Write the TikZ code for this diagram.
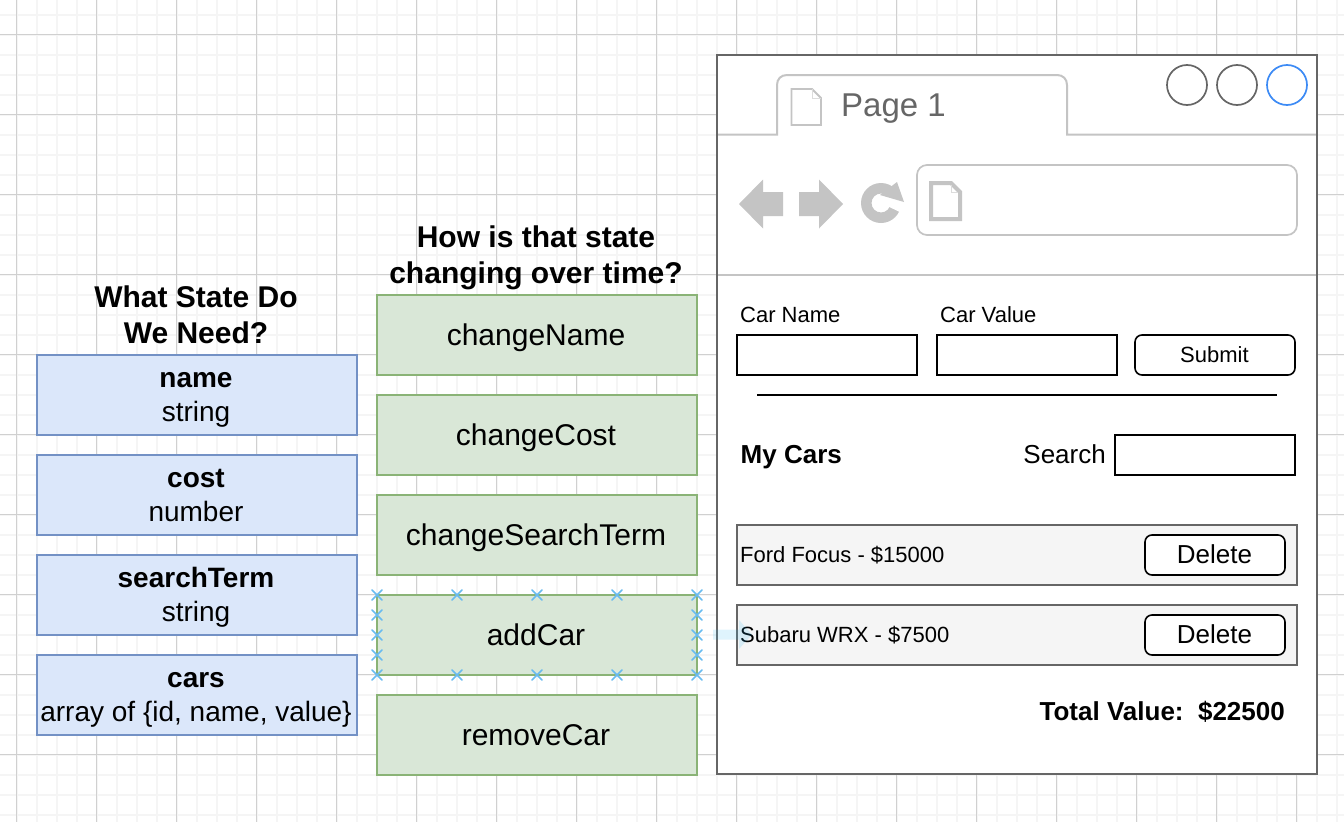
\documentclass[tikz,border=0pt]{standalone}
\usepackage{fontspec}
\setmainfont{Liberation Sans}
\usetikzlibrary{calc}
\definecolor{majorgrid}{HTML}{D0D0D0}
\definecolor{minorgrid}{HTML}{F5F5F5}
\definecolor{bluefill}{HTML}{DBE7FA}
\definecolor{blueline}{HTML}{7391C5}
\definecolor{greenfill}{HTML}{D9E7D7}
\definecolor{greenline}{HTML}{8AB376}
\definecolor{winline}{HTML}{666666}
\definecolor{iconline}{HTML}{C4C4C4}
\definecolor{rowfill}{HTML}{F5F5F5}
\definecolor{hoverblue}{HTML}{29B6F2}
\definecolor{selblue}{HTML}{68BBF0}
\definecolor{accentblue}{HTML}{3D8BF5}
\newcommand{\fsz}[2]{\fontsize{#1}{#2}\selectfont}
\newcommand{\twolines}[2]{\rule{0pt}{24pt}#1\kern2pt\\\rule[-6pt]{0pt}{6pt}#2\kern2pt}
\tikzset{
  x=1pt,y=-1pt,
  statebox/.style={draw=blueline,fill=bluefill,line width=1.5pt,minimum width=320pt,minimum height=80pt,inner sep=0pt,align=center,font=\fsz{28}{34}},
  actionbox/.style={draw=greenline,fill=greenfill,line width=1.5pt,minimum width=320pt,minimum height=80pt,inner sep=0pt,font=\fsz{30}{36},text height=22pt,text depth=2pt},
  heading/.style={align=center,font=\fsz{30}{36}\bfseries,inner sep=0pt},
  plain/.style={inner sep=0pt,anchor=base west,font=\fsz{#1}{#1}},
  field/.style={draw=black,fill=white,line width=1.6pt,inner sep=0pt},
  btn/.style={draw=black,fill=white,line width=1.6pt,rounded corners=7pt,inner sep=0pt},
  rowbox/.style={draw=winline,fill=rowfill,line width=1.7pt,inner sep=0pt},
  winctl/.style={draw=#1,line width=1.7pt,fill=white,circle,minimum size=40pt,inner sep=0pt},
  sel/.style={draw=selblue,line width=1.5pt,line cap=round},
  iconstroke/.style={draw=iconline,line width=1.8pt,fill=white,line join=miter},
}
\newcommand{\selx}[2]{\draw[sel] (#1-5,#2-5) -- (#1+5,#2+5) (#1-5,#2+5) -- (#1+5,#2-5);}
\begin{document}
\begin{tikzpicture}
\useasboundingbox (0,0) rectangle (1344,822);
\fill[white] (0,0) rectangle (1344,822);
% minor grid
\foreach \i in {0,...,67} {\draw[minorgrid,line width=2pt] ({16.5+20*\i},0) -- ({16.5+20*\i},822);}
\foreach \i in {0,...,41} {\draw[minorgrid,line width=2pt] (0,{14.5+20*\i}) -- (1344,{14.5+20*\i});}
% major grid
\foreach \i in {0,...,16} {\draw[majorgrid,line width=1pt] ({16.5+80*\i},0) -- ({16.5+80*\i},822);}
\foreach \i in {0,...,9} {\draw[majorgrid,line width=1pt] (0,{34.5+80*\i}) -- (1344,{34.5+80*\i});}

% left column
\node[heading] (hstate) at (197,316) {\twolines{What State Do}{We Need?}};
\node[statebox] (sname) at (197,395) {\twolines{\textbf{name}}{string}};
\node[statebox] (scost) at (197,495) {\twolines{\textbf{cost}}{number}};
\node[statebox] (sterm) at (197,595) {\twolines{\textbf{searchTerm}}{string}};
\node[statebox] (scars) at (197,695) {\twolines{\textbf{cars}}{array of \{id, name, value\}}};

% middle column
\node[heading] (hchange) at (537,257) {\twolines{How is that state}{changing over time?}};
\node[actionbox] (aname) at (537,335) {changeName\kern2pt};
\node[actionbox] (acost) at (537,435) {changeCost\kern2pt};
\node[actionbox] (aterm) at (537,535) {changeSearchTerm\kern2pt};
\node[actionbox] (aadd) at (537,635) {addCar\kern2pt};
\node[actionbox] (aremove) at (537,735) {removeCar\kern2pt};

% browser window
\node[fill=white,minimum width=600pt,minimum height=719pt,inner sep=0pt] (win) at (1017,414.5) {};
\draw[iconline,line width=2pt] (win.west |- 0,134.5) -- (777,134.5) -- (777,85) .. controls (777,79) and (781,75) .. (787,75) -- (1057,75) .. controls (1063,75) and (1067,79) .. (1067,85) -- (1067,134.5) -- (win.east |- 0,134.5);
\draw[iconline,line width=2pt] (win.west |- 0,274.5) -- (win.east |- 0,274.5);
\draw[winline,line width=1.8pt] (win.north west) rectangle (win.south east);
% tab page icon
\draw[iconstroke] (791.5,89) -- (812,89) -- (821,98) -- (821,125) -- (791.5,125) -- cycle;
\draw[iconline!60,line width=1pt] (812,89) -- (812,98) -- (821,98);
\node[plain=33,text=winline] (tabtext) at (841,116) {Page 1};
\node[winctl=winline] (c1) at (1187,85) {};
\node[winctl=winline] (c2) at (1237,85) {};
\node[winctl=accentblue] (c3) at (1287,85) {};
% nav icons
\fill[iconline] (739,204) -- (763,179.5) -- (763,192) -- (783,192) -- (783,216) -- (763,216) -- (763,228.5) -- cycle;
\fill[iconline] (843,204) -- (819,179.5) -- (819,192) -- (799,192) -- (799,216) -- (819,216) -- (819,228.5) -- cycle;
\fill[iconline,even odd rule] (881,203) circle[radius=20pt] (881,203) circle[radius=9.5pt];
\fill[white] (881,203) -- (906,215) -- (910,195) -- (890,192) -- cycle;
\fill[iconline] (897,182) -- (904,202) -- (880,195) -- cycle;
\node[draw=iconline,fill=white,line width=1.7pt,rounded corners=10pt,minimum width=380pt,minimum height=70pt,inner sep=0pt] (addr) at (1107,200) {};
\draw[iconline,line width=4pt,fill=white,line join=miter] (931,183) -- (951,183) -- (960,192) -- (960,219) -- (931,219) -- cycle;
\draw[iconline!60,line width=1pt] (951,185) -- (951,192) -- (958,192);

% form
\node[plain=22] (lname) at (740,322) {Car Name};
\node[plain=22] (lvalue) at (940,322) {Car Value};
\node[field,minimum width=180pt,minimum height=40pt] (fname) at (827,355) {};
\node[field,minimum width=180pt,minimum height=40pt] (fvalue) at (1027,355) {};
\node[btn,minimum width=160pt,minimum height=40pt] (submit) at (1215,355) {};
\node[plain=22] (tsubmit) at (1180,362) {Submit};
\draw[black,line width=1.6pt] (757,395) -- (1277,395);
\node[plain=26,font=\fsz{26}{26}\bfseries] (mycars) at (740.5,463) {My Cars};
\node[plain=26,anchor=base east] (lsearch) at (1106,463) {Search};
\node[field,minimum width=180pt,minimum height=40pt] (fsearch) at (1205,455) {};

% rows
\node[rowbox,minimum width=560pt,minimum height=60pt] (row1) at (1017,555) {};
\node[plain=22] (t1) at (740,562) {Ford Focus - \$15000};
\node[btn,minimum width=140pt,minimum height=40pt] (del1) at (1215,555) {};
\node[plain=26,anchor=base] (tdel1) at (1214.5,563) {Delete};
\node[rowbox,minimum width=560pt,minimum height=60pt] (row2) at (1017,635) {};
\node[plain=22] (t2) at (740,642) {Subaru WRX - \$7500};
\node[btn,minimum width=140pt,minimum height=40pt] (del2) at (1215,635) {};
\node[plain=26,anchor=base] (tdel2) at (1214.5,643) {Delete};
\node[plain=26,anchor=base east,font=\fsz{26}{26}\bfseries] (total) at (1285,720.5) {Total Value:\ \ \$22500};

% hover arrow
\fill[hoverblue,opacity=0.15] (713,629.5) -- (739,629.5) -- (739,620) -- (752,634.5) -- (739,649) -- (739,639.5) -- (713,639.5) -- cycle;

% selection crosses
\foreach \x in {377,457,537,617,697} {\selx{\x}{595} \selx{\x}{675}}
\foreach \y in {615,635,655} {\selx{377}{\y} \selx{697}{\y}}
\end{tikzpicture}
\end{document}
